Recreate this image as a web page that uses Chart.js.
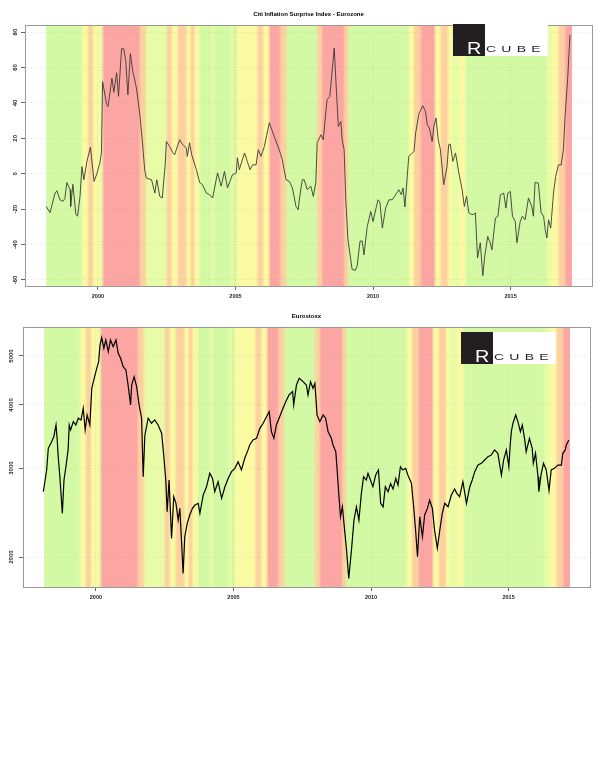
<!DOCTYPE html>
<html>
<head>
<meta charset="utf-8">
<script src="https://cdn.jsdelivr.net/npm/chart.js@4.4.1/dist/chart.umd.min.js"></script>
<style>
  body { margin: 0; background: #fff; }
  #page { position: relative; width: 605px; height: 762px; overflow: hidden; }
  canvas { position: absolute; left: 0; }
  #topChart { top: 0; }
  #bottomChart { top: 302px; }
  .logo { position: absolute; width: 95px; height: 32px; }
  .logo .blk { position: absolute; left: 0; top: 0; width: 32px; height: 32px; background: #231f20; }
  .logo .wht { position: absolute; left: 32px; top: 0; width: 63px; height: 32px; background: #fff; }
  .logo .r { position: absolute; left: 14px; top: 15.5px; font: 16.5px/16.5px 'Liberation Sans', Arial, sans-serif; color: #fff; transform: scaleX(1.2); transform-origin: left top; }
  .logo .cube { position: absolute; left: 33px; top: 21.4px; font: 9.3px/9.3px 'Liberation Sans', Arial, sans-serif; color: #231f20; letter-spacing: 3.5px; transform: scaleX(1.5); transform-origin: left top; white-space: nowrap; }
</style>
</head>
<body>
<div id="page">
  <canvas id="topChart" width="605" height="302"></canvas>
  <canvas id="bottomChart" width="605" height="305"></canvas>
  <div class="logo" style="left:453px; top:24px;"><div class="blk"></div><div class="wht"></div><div class="r">R</div><div class="cube">CUBE</div></div>
  <div class="logo" style="left:461px; top:332px;"><div class="blk"></div><div class="wht"></div><div class="r">R</div><div class="cube">CUBE</div></div>
</div>
<script>
// Citi Inflation Surprise Index - Eurozone (decimal years / index value)
const cesiDates = [1998.12,1998.26,1998.44,1998.51,1998.62,1998.73,1998.80,1998.87,1998.99,1999.01,
  1999.09,1999.20,1999.26,1999.35,1999.42,1999.49,1999.60,1999.73,1999.86,1999.95,
  2000.07,2000.13,2000.17,2000.32,2000.37,2000.51,2000.58,2000.68,2000.75,2000.86,
  2000.94,2001.01,2001.09,2001.18,2001.27,2001.40,2001.52,2001.62,2001.70,2001.76,
  2001.95,2002.07,2002.14,2002.25,2002.34,2002.45,2002.49,2002.61,2002.72,2002.79,
  2002.85,2002.97,2003.08,2003.21,2003.25,2003.33,2003.41,2003.58,2003.70,2003.80,
  2003.94,2004.06,2004.17,2004.35,2004.48,2004.60,2004.71,2004.89,2005.03,2005.07,
  2005.14,2005.33,2005.43,2005.53,2005.62,2005.75,2005.83,2005.93,2006.05,2006.23,
  2006.41,2006.59,2006.70,2006.84,2006.96,2007.07,2007.20,2007.28,2007.32,2007.43,
  2007.50,2007.61,2007.74,2007.83,2007.92,2007.97,2008.11,2008.19,2008.33,2008.43,
  2008.59,2008.68,2008.74,2008.83,2008.88,2008.95,2009.01,2009.09,2009.24,2009.35,
  2009.42,2009.53,2009.61,2009.67,2009.79,2009.92,2010.00,2010.18,2010.25,2010.34,
  2010.46,2010.58,2010.70,2010.82,2010.94,2011.03,2011.09,2011.16,2011.24,2011.30,
  2011.49,2011.55,2011.67,2011.81,2011.91,2011.97,2012.05,2012.15,2012.21,2012.29,
  2012.37,2012.45,2012.57,2012.69,2012.75,2012.81,2012.90,2013.00,2013.12,2013.24,
  2013.32,2013.40,2013.48,2013.58,2013.66,2013.72,2013.80,2013.90,2013.99,2014.06,
  2014.17,2014.26,2014.32,2014.45,2014.54,2014.63,2014.75,2014.83,2014.90,2014.99,
  2015.07,2015.17,2015.23,2015.35,2015.43,2015.53,2015.65,2015.77,2015.83,2015.89,
  2016.01,2016.11,2016.20,2016.26,2016.32,2016.38,2016.46,2016.56,2016.64,2016.74,
  2016.84,2016.92,2016.98,2017.08,2017.16];
const cesiValues = [-18.5,-22,-11,-9.6,-14.7,-15.6,-14,-5,-9,-18.5,
  -6,-23,-24,-12.8,4,-3.4,7,15,-4.3,-0.6,
  6,12,52,39,38,54,46,57,43.7,70.6,
  70.6,64,44.6,67.8,57.8,48.5,34,17.5,2.3,-2.4,
  -3.4,-10.9,-3.4,-12.8,-13.7,6,18.2,15.4,12,10.7,
  13.6,19.2,16.4,14.7,9.8,17.5,10.7,2.3,-5,-6.2,
  -10.9,-11.9,-13.7,0.5,-7,1.3,-8,-0.6,0.5,9,
  2.3,11.7,7,2.3,5,5,13.6,9.8,15.4,28.8,
  21,13.6,8,-3.4,-4.3,-8,-18.5,-20.3,-14.7,-3.4,
  -3.4,-9,-7,-12.8,-5,17.5,22,19.2,41.8,43.7,
  71,43.7,26.7,29.5,19,13.6,-14.7,-37.3,-54,-54.6,
  -52.4,-38,-38,-45.8,-29.8,-21.3,-27,-14.7,-16,-30.7,
  -19.4,-14.7,-14.7,-11.9,-9,-11.9,-8,-18.7,-2.4,9.8,
  12.6,23,34,38.4,35,27.7,25.8,18.2,26.7,31.5,
  19.2,13.6,-6.2,4.1,16.4,16.8,7,11.7,0.5,-9,
  -18.5,-12.8,-22,-23,-23,-22,-47.6,-39,-57.6,-46.7,
  -35.4,-39,-43,-25,-24,-11.9,-10.9,-19.4,-10.9,-10,
  -24,-27,-39,-27,-24,-26,-13.7,-18.5,-24,-4.9,
  -5.3,-22,-24,-31.6,-36.3,-26,-30.7,-10.9,-1.5,5,
  5,13.6,32,55,78.5];

// Eurostoxx (decimal years / index level)
const stoxxDates = [1998.09,1998.21,1998.27,1998.39,1998.47,1998.55,1998.59,1998.63,1998.69,1998.78,
  1998.84,1998.91,1998.99,1999.03,1999.08,1999.18,1999.27,1999.36,1999.46,1999.54,
  1999.61,1999.68,1999.78,1999.85,1999.94,2000.03,2000.10,2000.15,2000.21,2000.29,
  2000.36,2000.45,2000.53,2000.63,2000.73,2000.81,2000.90,2000.99,2001.09,2001.17,
  2001.26,2001.30,2001.39,2001.48,2001.57,2001.66,2001.72,2001.78,2001.90,2002.02,
  2002.14,2002.26,2002.39,2002.47,2002.54,2002.59,2002.66,2002.75,2002.83,2002.91,
  2002.99,2003.05,2003.11,2003.17,2003.23,2003.32,2003.41,2003.51,2003.60,2003.72,
  2003.78,2003.90,2004.02,2004.14,2004.24,2004.32,2004.44,2004.57,2004.69,2004.81,
  2004.93,2005.05,2005.17,2005.29,2005.41,2005.53,2005.59,2005.71,2005.84,2005.96,
  2006.08,2006.20,2006.30,2006.38,2006.47,2006.56,2006.68,2006.80,2006.90,2007.02,
  2007.15,2007.19,2007.29,2007.39,2007.53,2007.65,2007.71,2007.80,2007.89,2007.96,
  2008.04,2008.14,2008.26,2008.35,2008.44,2008.56,2008.62,2008.72,2008.76,2008.84,
  2008.89,2008.96,2009.04,2009.11,2009.19,2009.29,2009.38,2009.47,2009.56,2009.65,
  2009.73,2009.83,2009.89,2009.98,2010.07,2010.17,2010.27,2010.35,2010.44,2010.52,
  2010.62,2010.71,2010.80,2010.90,2010.98,2011.07,2011.16,2011.26,2011.34,2011.47,
  2011.55,2011.62,2011.69,2011.77,2011.87,2011.95,2012.05,2012.13,2012.23,2012.31,
  2012.41,2012.50,2012.59,2012.68,2012.80,2012.92,2013.04,2013.12,2013.22,2013.34,
  2013.47,2013.59,2013.68,2013.77,2013.89,2014.01,2014.13,2014.25,2014.37,2014.49,
  2014.61,2014.74,2014.82,2014.92,2015.01,2015.06,2015.10,2015.16,2015.26,2015.34,
  2015.43,2015.50,2015.58,2015.64,2015.76,2015.86,2015.90,2015.98,2016.07,2016.10,
  2016.19,2016.27,2016.37,2016.47,2016.55,2016.67,2016.79,2016.92,2016.97,2017.06,
  2017.10,2017.19];
const stoxxValues = [2693,2974,3283,3383,3461,3651,3436,3160,2884,2441,
  2841,3018,3259,3651,3569,3707,3651,3765,3736,3940,
  3569,3821,3651,4316,4518,4727,4873,5258,5436,5180,
  5379,5100,5379,5217,5379,5062,4949,4763,4692,4381,
  4000,4381,4550,4349,4000,3765,2884,3488,3765,3680,
  3736,3651,3516,3160,2841,2459,2841,2178,2633,2555,
  2367,2497,2161,1857,2194,2333,2423,2497,2535,2555,
  2441,2653,2755,2930,2863,2693,2819,2614,2755,2863,
  2951,2997,3088,2974,3137,3259,3333,3410,3436,3596,
  3680,3792,3880,3541,3436,3651,3792,3940,4060,4186,
  4250,4000,4381,4518,4448,4381,4186,4448,4316,4414,
  3821,3707,3821,3765,3541,3436,3333,3234,3018,2614,
  2404,2515,2261,2065,1815,2065,2367,2515,2367,2674,
  2884,2841,2930,2841,2755,2907,2974,2555,2515,2755,
  2693,2798,2727,2863,2776,3018,2974,2997,2907,2798,
  2515,2261,2003,2404,2194,2423,2497,2594,2497,2261,
  2081,2261,2441,2555,2515,2653,2727,2674,2633,2819,
  2555,2755,2841,2951,3042,3066,3112,3160,3184,3259,
  3209,2907,3112,3259,3018,3333,3541,3680,3821,3707,
  3541,3651,3436,3234,3436,3283,3066,3209,2884,2693,
  2930,3066,2974,2710,2974,2997,3042,3042,3209,3259,
  3333,3410];

// background regime bands: boundaries (decimal years) and level 0 (green) .. 4 (red)
const bandBreaks = [1998.12,1999.42,1999.64,1999.82,2000.07,2000.18,2001.52,2001.74,2002.50,2002.68,
  2002.90,2003.22,2003.37,2003.51,2003.70,2004.13,2004.24,2004.82,2004.93,2005.04,
  2005.80,2006.01,2006.23,2006.63,2006.85,2007.97,2008.15,2008.95,2009.09,2011.30,
  2011.49,2011.74,2012.25,2012.46,2012.72,2012.87,2013.12,2013.37,2016.30,2016.49,
  2016.74,2016.99,2017.21];
const bandLevel = [0,2,3,2,1,4,3,1,3,2,
  3,2,3,2,0,1,0,1,0,2,
  3,2,4,3,0,3,4,3,0,2,
  3,4,2,3,2,1,2,0,1,2,
  3,4];

const yearTicks = [2000, 2005, 2010, 2015];
const cesiTicks = [-60, -40, -20, 0, 20, 40, 60, 80];
const stoxxTicks = [2000, 3000, 4000, 5000];

const bandColors = ['#d3f9a5', '#e8fba6', '#fafaa3', '#fdd0a0', '#fca6a3'];

Chart.defaults.font.family = "'Liberation Sans', Arial, sans-serif";
Chart.defaults.color = '#222';

// colour bands behind the plot, with a soft blend at each boundary
const bandPlugin = {
    id: 'bands',
    beforeDraw(chart) {
        const { ctx, chartArea, scales } = chart;
        const x = scales.x;
        const top = chartArea.top, h = chartArea.bottom - chartArea.top;
        ctx.save();
        for (let i = 0; i < bandLevel.length; i++) {
            const x1 = x.getPixelForValue(bandBreaks[i]);
            const x2 = x.getPixelForValue(bandBreaks[i + 1]);
            ctx.fillStyle = bandColors[bandLevel[i]];
            ctx.fillRect(x1, top, x2 - x1 + 0.6, h);
        }
        for (let i = 1; i < bandLevel.length; i++) {
            const xb = x.getPixelForValue(bandBreaks[i]);
            const g = ctx.createLinearGradient(xb - 1.5, 0, xb + 1.5, 0);
            g.addColorStop(0, bandColors[bandLevel[i - 1]]);
            g.addColorStop(1, bandColors[bandLevel[i]]);
            ctx.fillStyle = g;
            ctx.fillRect(xb - 1.5, top, 3, h);
        }
        ctx.restore();
    },
    afterDatasetsDraw(chart) {
        const { ctx, chartArea } = chart;
        ctx.save();
        ctx.strokeStyle = '#999';
        ctx.lineWidth = 1;
        ctx.strokeRect(Math.round(chartArea.left) + 0.5, Math.round(chartArea.top) + 0.5,
            Math.round(chartArea.right - chartArea.left), Math.round(chartArea.bottom - chartArea.top));
        ctx.restore();
    }
};

function makeOptions(title, padRight, yWidth, xHeight, yScale, yLabelPad) {
    return {
        responsive: false,
        animation: false,
        devicePixelRatio: 1,
        events: [],
        layout: { padding: { left: 0, right: padRight, top: 0, bottom: 0 } },
        plugins: {
            legend: { display: false },
            tooltip: { enabled: false },
            title: {
                display: true,
                text: title,
                fullSize: false,
                color: '#000',
                font: { size: 6, weight: 'bold' },
                padding: { top: 10.4, bottom: 7.4 }
            }
        },
        scales: {
            x: {
                type: 'linear',
                min: 1997.35,
                max: 2017.96,
                afterBuildTicks: s => { s.ticks = yearTicks.map(v => ({ value: v })); },
                afterFit: s => { s.height = xHeight; },
                ticks: { autoSkip: false, maxRotation: 0, padding: 3, font: { size: 5.5, weight: 'bold' }, callback: v => String(v) },
                grid: { color: 'rgba(150,150,150,0.25)', tickColor: '#666', tickLength: 4 },
                border: { display: false, dash: [1, 2] }
            },
            y: Object.assign({
                afterFit: s => { s.width = yWidth; },
                ticks: { autoSkip: false, minRotation: 90, maxRotation: 90, crossAlign: 'center', padding: yLabelPad, font: { size: 6, weight: 'bold' }, callback: v => String(v) },
                grid: { color: 'rgba(150,150,150,0.25)', tickColor: '#666', tickLength: 4 },
                border: { display: false, dash: [1, 2] }
            }, yScale)
        }
    };
}

new Chart(document.getElementById('topChart'), {
    type: 'line',
    data: {
        datasets: [{
            data: cesiDates.map((d, i) => ({ x: d, y: cesiValues[i] })),
            borderColor: '#3a3a35',
            borderWidth: 0.9,
            pointRadius: 0,
            tension: 0
        }]
    },
    options: makeOptions('Citi Inflation Surprise Index - Eurozone', 13, 25, 16, {
        type: 'linear',
        min: -63.4,
        max: 84,
        afterBuildTicks: s => { s.ticks = cesiTicks.map(v => ({ value: v })); }
    }, 1.7),
    plugins: [bandPlugin]
});

new Chart(document.getElementById('bottomChart'), {
    type: 'line',
    data: {
        datasets: [{
            data: stoxxDates.map((d, i) => ({ x: d, y: stoxxValues[i] })),
            borderColor: '#000',
            borderWidth: 1.2,
            pointRadius: 0,
            tension: 0
        }]
    },
    options: makeOptions('Eurostoxx', 15, 23, 20, {
        type: 'logarithmic',
        min: 1745,
        max: 5706,
        afterBuildTicks: s => { s.ticks = stoxxTicks.map(v => ({ value: v })); }
    }, 0.5),
    plugins: [bandPlugin]
});
</script>
</body>
</html>
